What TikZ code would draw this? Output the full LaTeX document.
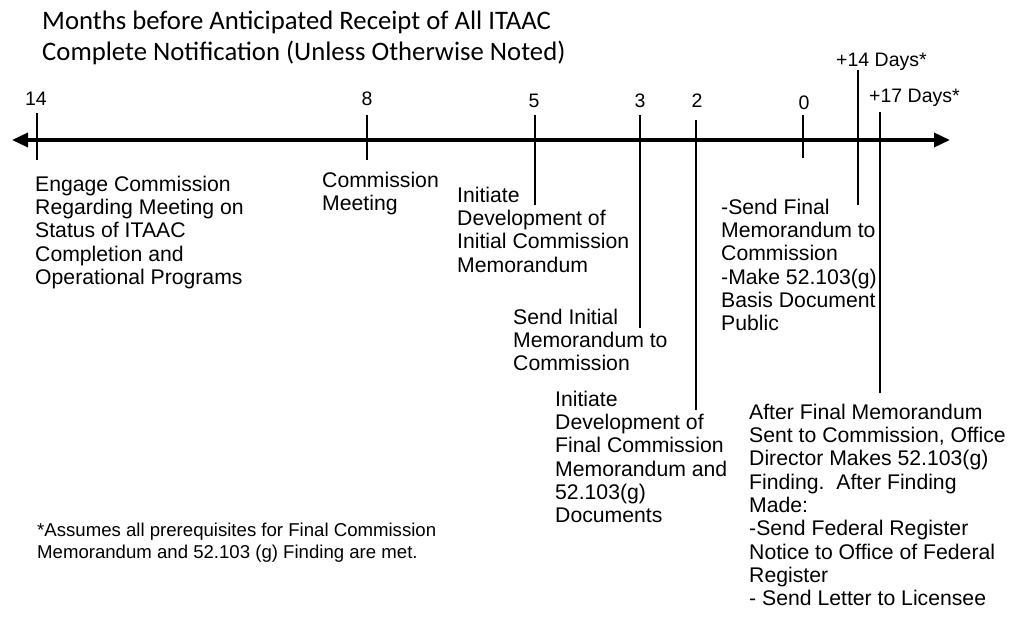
\documentclass[tikz,border=0pt]{standalone}
\usepackage{fontspec}
\usetikzlibrary{arrows.meta}
\newfontfamily\arialf{Liberation Sans}
\newfontfamily\calibrif{Carlito}
\tikzset{
  body/.style={font=\arialf\fontsize{21.2}{23.3}\selectfont, align=left, anchor=north west, inner sep=0pt, yshift=16.31pt, execute at begin node=\strut},
  ticklabel/.style={font=\arialf\fontsize{19.5}{22}\selectfont, anchor=base, inner sep=0pt},
  daylabel/.style={font=\arialf\fontsize{19.5}{22}\selectfont, anchor=base west, inner sep=0pt},
  titletext/.style={font=\calibrif\fontsize{26.7}{31}\selectfont, align=left, anchor=north west, inner sep=0pt, yshift=21.7pt, execute at begin node=\strut},
  note/.style={font=\arialf\fontsize{18.6}{21.3}\selectfont, align=left, anchor=north west, inner sep=0pt, yshift=14.91pt, execute at begin node=\strut},
  axis/.style={line width=3.5pt, {Triangle[length=16pt,width=14pt]}-{Triangle[length=16pt,width=14pt]}},
  tick/.style={line width=2.8pt}
}
\begin{document}
\begin{tikzpicture}[x=1pt,y=-1pt]
\useasboundingbox (0,0) rectangle (1011,628);
% title
\node[titletext] (title) at (42,32) {Months before Anticipated Receipt of All ITAAC\\Complete Notification (Unless Otherwise Noted)};
% axis
\coordinate (axL) at (12,140);
\coordinate (axR) at (950,140);
\draw[axis] (axL) -- (axR);
% ticks
\coordinate (t14a) at (37,113);  \coordinate (t14b) at (37,160);
\coordinate (t8a) at (367,115);  \coordinate (t8b) at (367,160);
\coordinate (t5a) at (535,115);  \coordinate (t5b) at (535,205);
\coordinate (t3a) at (640,115);  \coordinate (t3b) at (640,328);
\coordinate (t2a) at (696,120);  \coordinate (t2b) at (696,410);
\coordinate (t0a) at (803,115);  \coordinate (t0b) at (803,158);
\coordinate (tp14a) at (858,70); \coordinate (tp14b) at (858,205);
\coordinate (tp17a) at (880,112); \coordinate (tp17b) at (880,393);
\draw[tick] (t14a) -- (t14b);
\draw[tick] (t8a) -- (t8b);
\draw[tick] (t5a) -- (t5b);
\draw[tick] (t3a) -- (t3b);
\draw[tick] (t2a) -- (t2b);
\draw[tick] (t0a) -- (t0b);
\draw[tick] (tp14a) -- (tp14b);
\draw[tick] (tp17a) -- (tp17b);
% tick labels
\node[ticklabel] (l14) at (36,106) {14};
\node[ticklabel] (l8) at (367,106) {8};
\node[ticklabel] (l5) at (534,108) {5};
\node[ticklabel] (l3) at (640,108) {3};
\node[ticklabel] (l2) at (697,108) {2};
\node[ticklabel] (l0) at (804,110) {0};
\node[daylabel] (lp14) at (836,67) {+14 Days*};
\node[daylabel] (lp17) at (869,103) {+17 Days*};
% descriptions
\node[body] (engage) at (35,192) {Engage Commission\\Regarding Meeting on\\Status of ITAAC\\Completion and\\Operational Programs};
\node[body] (meeting) at (322,188) {Commission\\Meeting};
\node[body] (initdev) at (457,203) {Initiate\\Development of\\Initial Commission\\Memorandum};
\node[body] (sendinit) at (513,325) {Send Initial\\Memorandum to\\Commission};
\node[body] (finaldev) at (555,407) {Initiate\\Development of\\Final Commission\\Memorandum and\\52.103(g)\\Documents};
\node[body] (sendfinal) at (721,215) {-Send Final\\Memorandum to\\Commission\\-Make 52.103(g)\\Basis Document\\Public};
\node[body] (after) at (749,420) {After Final Memorandum\\Sent to Commission, Office\\Director Makes 52.103(g)\\Finding.\ \ After Finding\\Made:\\-Send Federal Register\\Notice to Office of Federal\\Register\\- Send Letter to Licensee};
\node[note] (note) at (37,538) {*Assumes all prerequisites for Final Commission\\Memorandum and 52.103 (g) Finding are met.};
\end{tikzpicture}
\end{document}
